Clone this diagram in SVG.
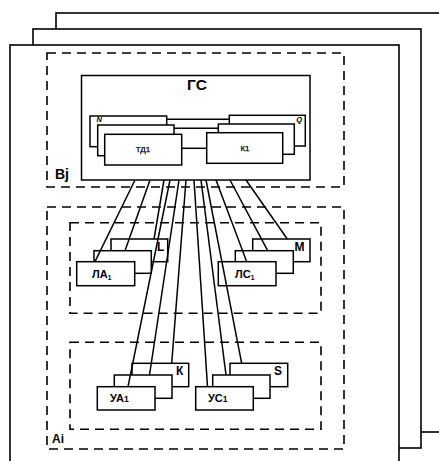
<svg xmlns="http://www.w3.org/2000/svg" width="439" height="461" viewBox="0 0 439 461">
<style>
.fr{fill:#fff;stroke:#000;stroke-width:1.6}
.dash{fill:none;stroke:#000;stroke-width:1.6;stroke-dasharray:9,6}
.bx{fill:#fff;stroke:#000;stroke-width:1.5}
.ln{stroke:#000;stroke-width:1.5;fill:none}
.t{font-family:"Liberation Sans",Arial,sans-serif;font-weight:bold;fill:#000}
.s{font-family:"Liberation Sans",Arial,sans-serif;fill:#000;stroke:#000;stroke-width:0.25}
</style>
<rect width="439" height="461" fill="#fff"/>
<g id="frames">
<rect class="fr" x="56" y="13" width="400" height="419"/>
<rect class="fr" x="33" y="29" width="388" height="419"/>
<rect class="fr" x="10" y="45" width="389" height="430"/>
</g>
<g id="Bj">
<rect class="dash" x="47" y="53" width="297" height="134"/>
<text class="t" x="55" y="179" font-size="14">Bj</text>
</g>
<g id="GS">
<rect class="bx" x="81.5" y="75.5" width="228.5" height="104.5"/>
<text class="t" x="197" y="90" font-size="15.5" text-anchor="middle">ГС</text>
<line class="ln" x1="166.7" y1="119.3" x2="229.3" y2="119.3"/>
<line class="ln" x1="174" y1="128.3" x2="218.3" y2="128.3"/>
<line class="ln" x1="181.7" y1="148.3" x2="206.7" y2="148.3"/>
</g>
<g id="TD">
<rect class="bx" x="90" y="116" width="76.7" height="30.7"/>
<rect class="bx" x="97.7" y="125" width="76.3" height="30.7"/>
<rect class="bx" x="104.7" y="134.3" width="77" height="30.7"/>
<text class="t" x="96.5" y="122" font-size="7.5" font-style="italic">N</text>
<text class="s" x="143" y="152" font-size="8" text-anchor="middle">ТД1</text>
</g>
<g id="K">
<rect class="bx" x="229.3" y="115.3" width="76" height="30.7"/>
<rect class="bx" x="218.3" y="124" width="76" height="30.3"/>
<rect class="bx" x="206.7" y="132.7" width="76" height="30.6"/>
<text class="t" x="302" y="122" font-size="7.5" font-style="italic" text-anchor="end">Q</text>
<text class="s" x="245" y="151" font-size="8" text-anchor="middle">К1</text>
</g>
<g id="Ai">
<rect class="dash" x="47" y="207" width="297" height="242"/>
<text class="t" x="52" y="443" font-size="12">Ai</text>
</g>
<g id="groupL">
<rect class="dash" x="70" y="222.7" width="251" height="90.6"/>
</g>
<g id="groupU">
<rect class="dash" x="70" y="342.3" width="251" height="87"/>
</g>
<g id="LA">
<rect class="bx" x="111" y="239" width="56.7" height="22.7"/>
<rect class="bx" x="94" y="250.7" width="57.3" height="22.6"/>
<rect class="bx" x="76.7" y="261.7" width="58" height="24"/>
<text class="t" x="157" y="251" font-size="12">L</text>
<text class="t" x="92" y="278" font-size="11">ЛА<tspan font-size="6.5" dy="2">1</tspan></text>
</g>
<g id="LS">
<rect class="bx" x="252.7" y="239" width="57.3" height="22.7"/>
<rect class="bx" x="235.3" y="250.7" width="58" height="22.6"/>
<rect class="bx" x="218.3" y="261.7" width="57.7" height="24"/>
<text class="t" x="294.5" y="251" font-size="12">М</text>
<text class="t" x="235" y="278" font-size="11">ЛС<tspan font-size="6.5" dy="2">1</tspan></text>
</g>
<g id="UA">
<rect class="bx" x="132" y="363.3" width="56.7" height="23.4"/>
<rect class="bx" x="114.3" y="375" width="57.7" height="23.3"/>
<rect class="bx" x="97.3" y="386.7" width="57.7" height="23.3"/>
<text class="t" x="176" y="375" font-size="12">К</text>
<text class="t" x="110" y="402" font-size="11">УА<tspan font-size="8.5">1</tspan></text>
</g>
<g id="US">
<rect class="bx" x="230" y="363.3" width="57.7" height="23.4"/>
<rect class="bx" x="212.7" y="375" width="57.3" height="23.3"/>
<rect class="bx" x="195.7" y="386.7" width="57.6" height="23.3"/>
<text class="t" x="274" y="375" font-size="12">S</text>
<text class="t" x="208" y="402" font-size="11">УС<tspan font-size="8.5">1</tspan></text>
</g>
<g id="connectors">
<line class="ln" x1="135" y1="180" x2="95" y2="261.7"/>
<line class="ln" x1="150" y1="180" x2="125" y2="250.7"/>
<line class="ln" x1="164" y1="180" x2="154" y2="239"/>
<line class="ln" x1="170" y1="180" x2="128" y2="386.7"/>
<line class="ln" x1="179" y1="180" x2="149.5" y2="375"/>
<line class="ln" x1="186" y1="180" x2="171.7" y2="363.3"/>
<line class="ln" x1="194" y1="180" x2="207.5" y2="386.7"/>
<line class="ln" x1="201" y1="180" x2="226" y2="375"/>
<line class="ln" x1="206" y1="180" x2="241.7" y2="363.3"/>
<line class="ln" x1="216" y1="180" x2="246.7" y2="261.7"/>
<line class="ln" x1="230" y1="180" x2="267.7" y2="250.7"/>
<line class="ln" x1="246" y1="180" x2="287.3" y2="239"/>
</g>
</svg>
